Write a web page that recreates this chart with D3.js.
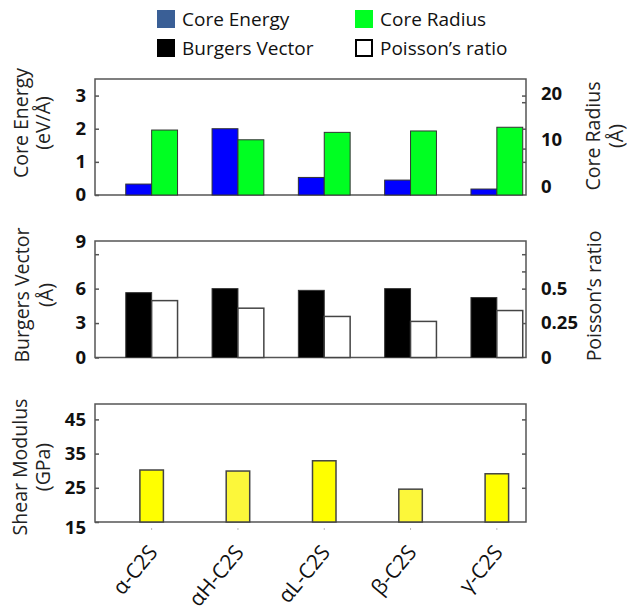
<!DOCTYPE html>
<html>
<head>
<meta charset="utf-8">
<script src="https://cdn.jsdelivr.net/npm/d3@7"></script>
<style>
  body { margin: 0; background: #fff; }
  .tick text { font-family: "Liberation Sans Narrow", "Open Sans", sans-serif; font-weight: bold; font-size: 18.5px; fill: #111; }
  .title { font-family: "Open Sans", sans-serif; font-size: 19.5px; fill: #222; }
  .legend { font-family: "Open Sans", sans-serif; font-size: 19px; fill: #111; }
</style>
</head>
<body>
<div id="chart"></div>
<script>
// categories
const phases = ["α-C2S", "αH-C2S", "αL-C2S", "β-C2S", "γ-C2S"];

// panel 1
const coreEnergy = [0.33, 2.0, 0.53, 0.45, 0.18];      // eV/Å
const coreRadius = [14.0, 11.9, 13.5, 13.8, 14.6];     // Å
// panel 2
const burgers = [5.65, 6.0, 5.85, 6.0, 5.22];          // Å
const poisson = [0.413, 0.358, 0.298, 0.262, 0.341];
// panel 3
const shear = [30.2, 29.9, 32.9, 24.6, 29.1];          // GPa

const width = 633, height = 611;
const left = 95, right = 526;

const svg = d3.select("#chart").append("svg")
  .attr("width", width)
  .attr("height", height);

// shared x
const x = d3.scaleBand()
  .domain(phases)
  .range([108.5, 540])
  .paddingInner(0.4)
  .paddingOuter(0.2);
const xSub = d3.scaleBand().domain([0, 1]).range([0, x.bandwidth()]);

// panel y ranges
const p1 = { top: 79, bottom: 195 };
const p2 = { top: 241, bottom: 357.5 };
const p3 = { top: 404, bottom: 522 };

const y1L = d3.scaleLinear().domain([0, 3.5]).range([p1.bottom, p1.top]);
const y1R = d3.scaleLinear().domain([0, 25]).range([p1.bottom, p1.top]);
const y2L = d3.scaleLinear().domain([0, 10.15]).range([p2.bottom, p2.top]);
const y2R = d3.scaleLinear().domain([0, 10.15 / 12]).range([p2.bottom, p2.top]);
const y3 = d3.scaleLinear().domain([15, 49.5]).range([p3.bottom, p3.top]);

function frame(p) {
  svg.append("rect")
    .attr("x", left)
    .attr("y", p.top)
    .attr("width", right - left)
    .attr("height", p.bottom - p.top)
    .attr("fill", "none")
    .attr("stroke", "#555")
    .attr("stroke-width", 1.5);
}

function styleAxis(g) {
  g.select(".domain").remove();
  g.selectAll(".tick line").attr("stroke", "#555").attr("stroke-width", 1.5);
}

function yAxes(yl, lTicks, yr, rTicks, rFmt, rLabels) {
  // left axis, ticks inward
  svg.append("g")
    .attr("transform", `translate(${left},0)`)
    .call(d3.axisLeft(yl).tickValues(lTicks).tickSize(-4).tickPadding(9).tickFormat(d3.format("d")))
    .call(styleAxis);
  // mirrored left ticks on right edge
  svg.append("g")
    .attr("transform", `translate(${right},0)`)
    .call(d3.axisRight(yl).tickValues(lTicks.filter(d => d > yl.domain()[0])).tickSize(-4).tickFormat(""))
    .call(styleAxis);
  const g = svg.append("g")
    .attr("transform", `translate(${right},0)`)
    .call(d3.axisRight(yr).tickValues(rTicks).tickSize(-4).tickPadding(15).tickFormat(rFmt))
    .call(styleAxis);
  g.selectAll(".tick").filter(d => !rLabels.includes(d)).select("text").remove();
  g.selectAll(".tick").filter(d => d === 0).select("line").remove();
  return g;
}

function title(lines, cx, cy, gap) {
  lines.forEach((t, i) => {
    svg.append("text")
      .attr("class", "title")
      .attr("transform", `translate(${cx + i * gap},${cy}) rotate(-90)`)
      .attr("text-anchor", "middle")
      .text(t);
  });
}

// ---------- panel 1 ----------
frame(p1);
const g1 = svg.append("g");
g1.selectAll(".ce").data(coreEnergy).join("rect")
  .attr("x", (d, i) => x(phases[i]) + xSub(0))
  .attr("y", d => y1L(d))
  .attr("width", xSub.bandwidth())
  .attr("height", d => p1.bottom - y1L(d))
  .attr("fill", "#0000ff")
  .attr("stroke", "#333");
g1.selectAll(".cr").data(coreRadius).join("rect")
  .attr("x", (d, i) => x(phases[i]) + xSub(1))
  .attr("y", d => y1R(d))
  .attr("width", xSub.bandwidth())
  .attr("height", d => p1.bottom - y1R(d))
  .attr("fill", "#00ff22")
  .attr("stroke", "#333");
const r1 = yAxes(y1L, [0, 1, 2, 3], y1R, [0, 10, 20], d3.format("d"), [0, 10, 20]);
r1.selectAll(".tick text").attr("dy", "-0.15em");
title(["Core Energy", "(eV/Å)"], 28, 123, 22);
title(["Core Radius", "(Å)"], 600, 136, 23);

// ---------- panel 2 ----------
frame(p2);
const g2 = svg.append("g");
g2.selectAll(".bv").data(burgers).join("rect")
  .attr("x", (d, i) => x(phases[i]) + xSub(0))
  .attr("y", d => y2L(d))
  .attr("width", xSub.bandwidth())
  .attr("height", d => p2.bottom - y2L(d))
  .attr("fill", "#000")
  .attr("stroke", "#333");
g2.selectAll(".pr").data(poisson).join("rect")
  .attr("x", (d, i) => x(phases[i]) + xSub(1))
  .attr("y", d => y2R(d))
  .attr("width", xSub.bandwidth())
  .attr("height", d => p2.bottom - y2R(d))
  .attr("fill", "#fff")
  .attr("stroke", "#444")
  .attr("stroke-width", 1.5);
svg.append("g")
  .attr("transform", `translate(${left},0)`)
  .call(d3.axisLeft(y2L).tickValues([0, 3, 6, 9]).tickSize(-4).tickPadding(9))
  .call(styleAxis)
  .call(g => g.selectAll(".tick").filter(d => d === 9).select("text").attr("dy", "-0.35em"));
svg.append("g")
  .attr("transform", `translate(${right},0)`)
  .call(d3.axisRight(y2R).tickValues([0.25, 0.5, 0.625, 0.75]).tickSize(-4).tickFormat(""))
  .call(styleAxis);
svg.append("g")
  .attr("transform", `translate(${right},0)`)
  .call(d3.axisRight(y2R).tickValues([0, 0.25, 0.5]).tickSize(0).tickPadding(15).tickFormat(d => String(d)))
  .call(styleAxis);
title(["Burgers Vector", "(Å)"], 29, 295, 24);
title(["Poisson\u2019s ratio"], 601, 296, 0);

// ---------- panel 3 ----------
frame(p3);
const shearW = 23.5;
svg.append("g").selectAll("rect").data(shear).join("rect")
  .attr("x", (d, i) => x(phases[i]) + x.bandwidth() / 2 - shearW / 2)
  .attr("y", d => y3(d))
  .attr("width", shearW)
  .attr("height", d => p3.bottom - y3(d))
  .attr("fill", (d, i) => i % 2 ? "#fcf73a" : "#ffff00")
  .attr("stroke", "#444")
  .attr("stroke-width", 1.5);
svg.append("g")
  .attr("transform", `translate(${left},0)`)
  .call(d3.axisLeft(y3).tickValues([15, 25, 35, 45]).tickSize(-4).tickPadding(9))
  .call(styleAxis)
  .call(g => g.selectAll(".tick").filter(d => d === 15).select("text").attr("dy", "0.6em"));
svg.append("g")
  .attr("transform", `translate(${right},0)`)
  .call(d3.axisRight(y3).tickValues([25, 35, 45]).tickSize(-4).tickFormat(""))
  .call(styleAxis);
title(["Shear Modulus", "(GPa)"], 27, 467, 23);

// x axis labels
const xa = svg.append("g")
  .attr("transform", `translate(0,${p3.bottom + 6})`)
  .call(d3.axisBottom(x).tickSize(2).tickPadding(0));
xa.select(".domain").remove();
xa.selectAll(".tick line").attr("stroke", "#bbb");
xa.selectAll(".tick text")
  .style("font-family", "'Open Sans', sans-serif")
  .style("font-weight", "normal")
  .style("font-size", "21px")
  .attr("text-anchor", "end")
  .attr("y", 0)
  .attr("dy", 0)
  .attr("transform", "translate(7,25) rotate(-50)");

// ---------- legend ----------
const legendItems = [
  { name: "Core Energy", fill: "#3a5f96", stroke: "#3a5f96", lx: 157, ly: 10 },
  { name: "Core Radius", fill: "#00ff22", stroke: "#00ff22", lx: 355, ly: 10 },
  { name: "Burgers Vector", fill: "#000", stroke: "#000", lx: 157, ly: 39 },
  { name: "Poisson\u2019s ratio", fill: "#fff", stroke: "#000", lx: 355, ly: 39 }
];
const lg = svg.append("g").selectAll("g").data(legendItems).join("g")
  .attr("transform", d => `translate(${d.lx},${d.ly})`);
lg.append("rect")
  .attr("x", 1).attr("y", 1)
  .attr("width", 16).attr("height", 16)
  .attr("fill", d => d.fill)
  .attr("stroke", d => d.stroke)
  .attr("stroke-width", 2);
lg.append("text")
  .attr("class", "legend")
  .attr("x", 25)
  .attr("y", 9)
  .attr("dy", "0.35em")
  .text(d => d.name);
</script>
</body>
</html>
